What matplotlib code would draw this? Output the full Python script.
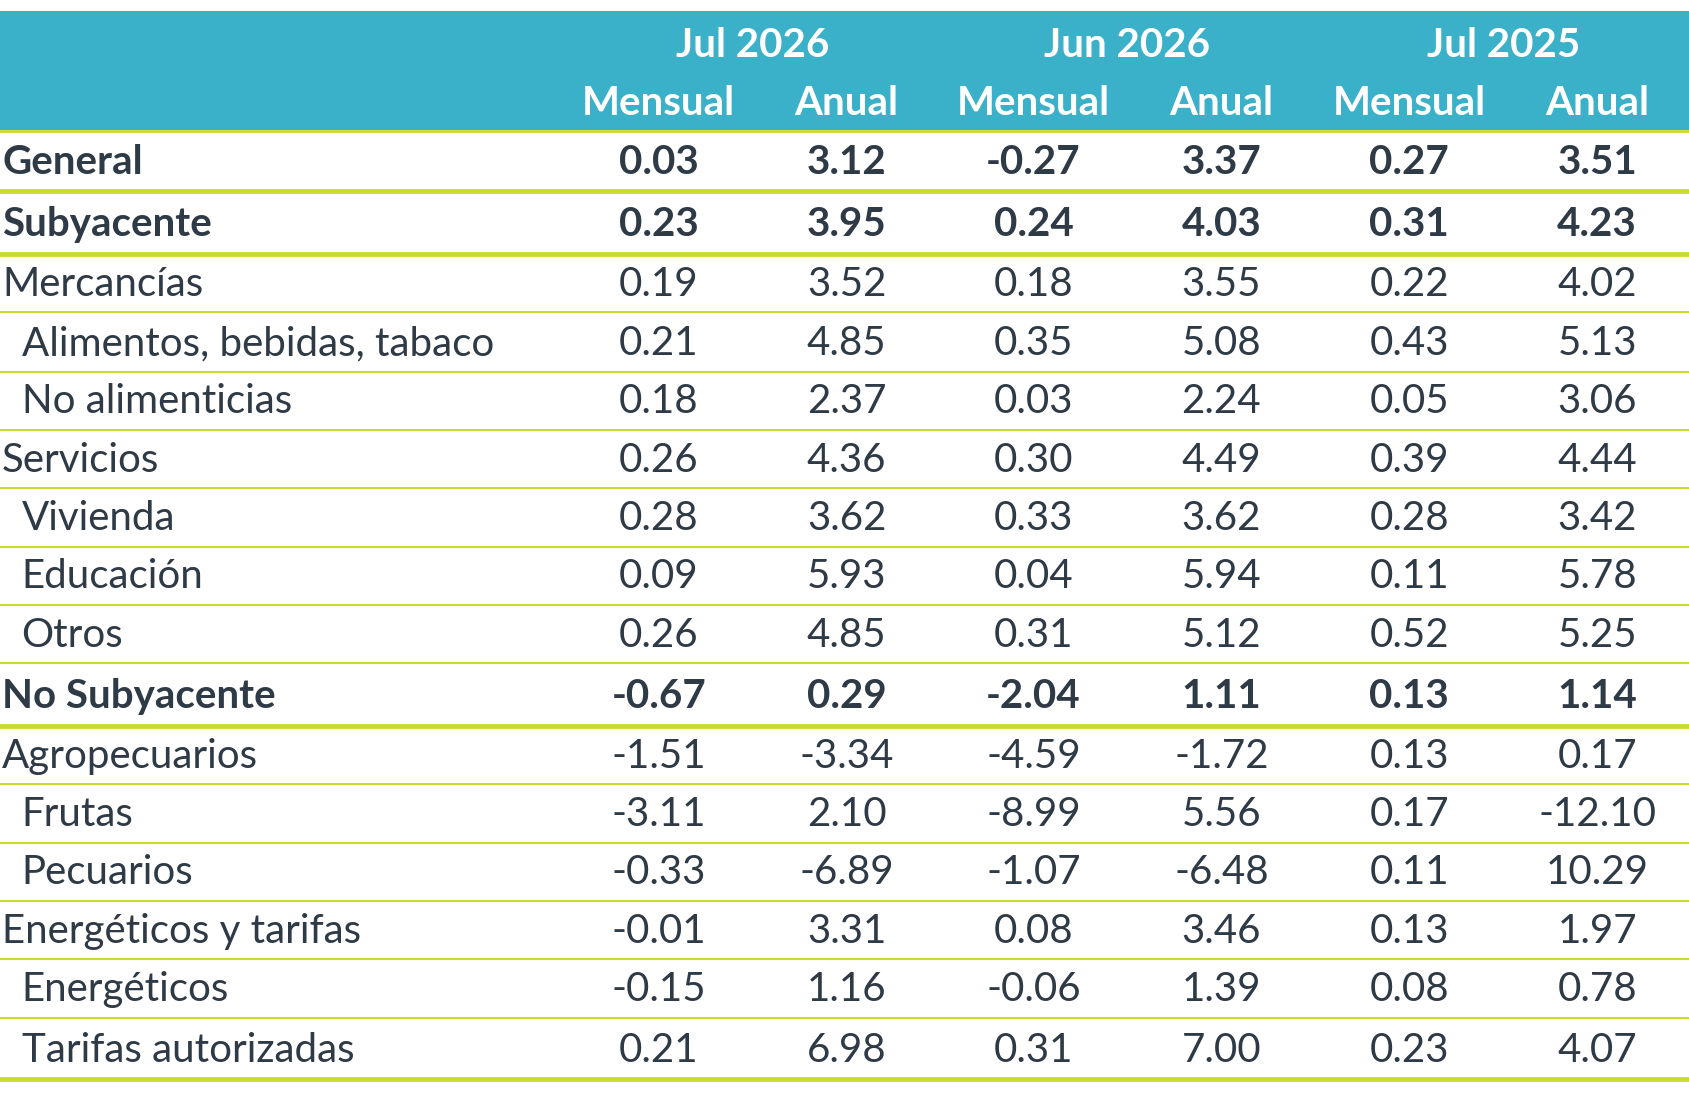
import matplotlib.pyplot as plt

periods = ["Jul 2026", "Jun 2026", "Jul 2025"]
subheads = ["Mensual", "Anual"]
labels = ["General", "Subyacente", "Mercancías", "Alimentos, bebidas, tabaco", "No alimenticias",
          "Servicios", "Vivienda", "Educación", "Otros", "No Subyacente", "Agropecuarios",
          "Frutas", "Pecuarios", "Energéticos y tarifas", "Energéticos", "Tarifas autorizadas"]
indent = [0, 0, 0, 1, 1, 0, 1, 1, 1, 0, 0, 1, 1, 0, 1, 1]
bold = [1, 1, 0, 0, 0, 0, 0, 0, 0, 1, 0, 0, 0, 0, 0, 0]
values = [
    ["0.03", "3.12", "-0.27", "3.37", "0.27", "3.51"],
    ["0.23", "3.95", "0.24", "4.03", "0.31", "4.23"],
    ["0.19", "3.52", "0.18", "3.55", "0.22", "4.02"],
    ["0.21", "4.85", "0.35", "5.08", "0.43", "5.13"],
    ["0.18", "2.37", "0.03", "2.24", "0.05", "3.06"],
    ["0.26", "4.36", "0.30", "4.49", "0.39", "4.44"],
    ["0.28", "3.62", "0.33", "3.62", "0.28", "3.42"],
    ["0.09", "5.93", "0.04", "5.94", "0.11", "5.78"],
    ["0.26", "4.85", "0.31", "5.12", "0.52", "5.25"],
    ["-0.67", "0.29", "-2.04", "1.11", "0.13", "1.14"],
    ["-1.51", "-3.34", "-4.59", "-1.72", "0.13", "0.17"],
    ["-3.11", "2.10", "-8.99", "5.56", "0.17", "-12.10"],
    ["-0.33", "-6.89", "-1.07", "-6.48", "0.11", "10.29"],
    ["-0.01", "3.31", "0.08", "3.46", "0.13", "1.97"],
    ["-0.15", "1.16", "-0.06", "1.39", "0.08", "0.78"],
    ["0.21", "6.98", "0.31", "7.00", "0.23", "4.07"],
]

plt.rcParams['font.family'] = ['Lato', 'DejaVu Sans']
W, H = 1565.0, 1021.0
fig = plt.figure(figsize=(16.9, 11.03), dpi=100)
ax = fig.add_axes([0, 0, 1, 1])
ax.set_xlim(0, W)
ax.set_ylim(H, 0)
ax.axis('off')

teal = "#3AB0C9"
line_c = "#C8DC2E"
txt = "#2E3A46"
fs = 29

ax.add_patch(plt.Rectangle((0, 10), W, 110, color=teal, lw=0))
col_x = [610, 784, 957, 1131, 1305, 1479]
for i, p in enumerate(periods):
    ax.text((col_x[2 * i] + col_x[2 * i + 1]) / 2, 42, p, color="white", fontsize=fs,
            fontweight="bold", ha="center", va="center")
    for j, s in enumerate(subheads):
        ax.text(col_x[2 * i + j], 96, s, color="white", fontsize=fs, fontweight="bold",
                ha="center", va="center")

ys = [150, 208, 263, 318, 372, 426, 480, 534, 588, 645, 700, 754, 808, 862, 916, 972]
ax.plot([0, W], [121, 121], color=line_c, lw=2)
for k, (lab, y) in enumerate(zip(labels, ys)):
    w = "bold" if bold[k] else "normal"
    ax.text(2 + 18 * indent[k], y, lab, color=txt, fontsize=fs, fontweight=w, va="center")
    for c, v in enumerate(values[k]):
        ax.text(col_x[c], y, v, color=txt, fontsize=fs, fontweight=w, ha="center", va="center")
    thick = bold[k] or k == len(labels) - 1
    yb = y + 27 if thick else y + 26
    ax.plot([0, W], [yb, yb], color=line_c, lw=3.5 if thick else 1.5)

fig.savefig("out.png", dpi=100)
